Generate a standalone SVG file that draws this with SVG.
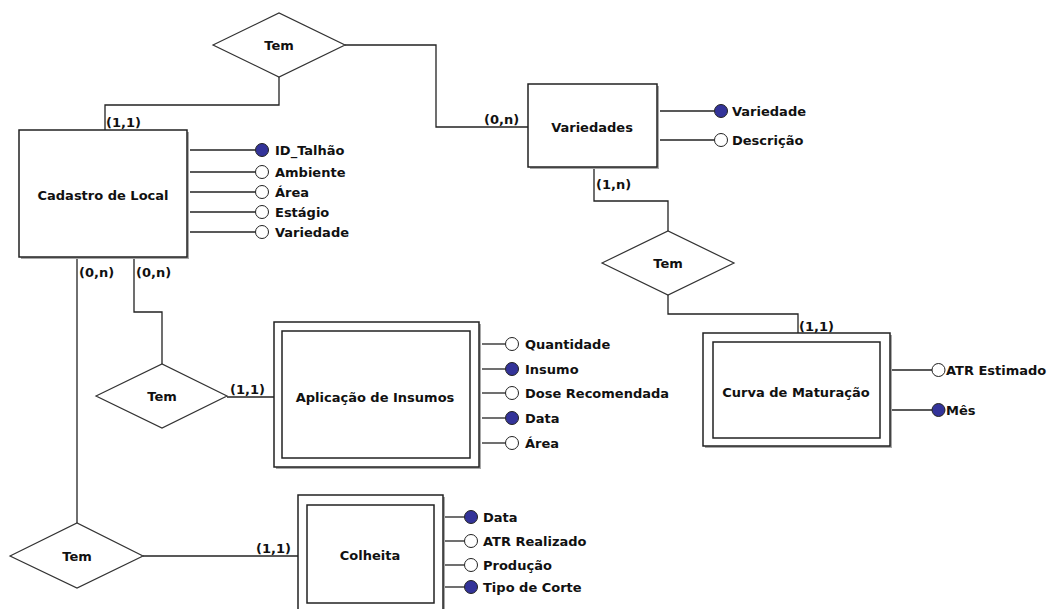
<svg xmlns="http://www.w3.org/2000/svg" width="1055" height="609" viewBox="0 0 1055 609">
<style>
text{font-family:"DejaVu Sans","Verdana",sans-serif;font-weight:bold;font-size:13px;fill:#111}
.c{text-anchor:middle;dominant-baseline:central}
.a{dominant-baseline:central}
.box{fill:#fff;stroke:#222;stroke-width:1.5}
.sh{fill:#a8a8a8;stroke:none}
.dia{fill:#fff;stroke:#333;stroke-width:1.2}
.ln{fill:none;stroke:#222;stroke-width:1.3}
.ko{fill:#fff;stroke:#222;stroke-width:1}
.pk{fill:#333399;stroke:#222;stroke-width:1}
</style>
<rect width="1055" height="609" fill="#fff"/>

<g id="connectors">
<polyline class="ln" points="279,77 279,105 105,105 105,130"/>
<polyline class="ln" points="345,45 436,45 436,127 528,127"/>
<polyline class="ln" points="594,167 594,201 668,201 668,231"/>
<polyline class="ln" points="668,295 668,314 798,314 798,333"/>
<polyline class="ln" points="134,257 134,312 162,312 162,364"/>
<line class="ln" x1="227" y1="397" x2="274" y2="397"/>
<line class="ln" x1="77" y1="257" x2="77" y2="523"/>
<line class="ln" x1="143" y1="556" x2="298" y2="556"/>
<text x="106" y="127">(1,1)</text>
<text x="484" y="124">(0,n)</text>
<text x="596" y="189">(1,n)</text>
<text x="799" y="331">(1,1)</text>
<text x="79" y="277">(0,n)</text>
<text x="136" y="277">(0,n)</text>
<text x="230" y="394">(1,1)</text>
<text x="256" y="553">(1,1)</text>
</g>

<g id="rel-tem-1">
<polygon class="dia" points="213,45 279,13 345,45 279,77"/>
<text class="c" x="279" y="45">Tem</text>
</g>
<g id="rel-tem-2">
<polygon class="dia" points="602,263 668,231 734,263 668,295"/>
<text class="c" x="668" y="263">Tem</text>
</g>
<g id="rel-tem-3">
<polygon class="dia" points="96,396 162,364 227,396 162,428"/>
<text class="c" x="162" y="396">Tem</text>
</g>
<g id="rel-tem-4">
<polygon class="dia" points="10,556 77,523 143,556 77,588"/>
<text class="c" x="77" y="556">Tem</text>
</g>

<g id="cadastro-de-local">
<rect class="sh" x="21" y="132" width="168" height="127"/>
<rect class="box" x="19" y="130" width="168" height="127"/>
<text class="c" x="103" y="195">Cadastro de Local</text>
<g class="attrs">
<line class="ln" x1="190" y1="150" x2="255" y2="150"/>
<line class="ln" x1="190" y1="172" x2="255" y2="172"/>
<line class="ln" x1="190" y1="192" x2="255" y2="192"/>
<line class="ln" x1="190" y1="212" x2="255" y2="212"/>
<line class="ln" x1="190" y1="232" x2="255" y2="232"/>
<circle class="pk" cx="262" cy="150" r="6.5"/>
<circle class="ko" cx="262" cy="172" r="6.5"/>
<circle class="ko" cx="262" cy="192" r="6.5"/>
<circle class="ko" cx="262" cy="212" r="6.5"/>
<circle class="ko" cx="262" cy="232" r="6.5"/>
<text class="a" x="275" y="150">ID_Talhão</text>
<text class="a" x="275" y="172">Ambiente</text>
<text class="a" x="275" y="192">Área</text>
<text class="a" x="275" y="212">Estágio</text>
<text class="a" x="275" y="232">Variedade</text>
</g>
</g>

<g id="variedades">
<rect class="sh" x="530" y="86" width="129" height="83"/>
<rect class="box" x="528" y="84" width="129" height="83"/>
<text class="c" x="592" y="127">Variedades</text>
<line class="ln" x1="660" y1="111" x2="714" y2="111"/>
<line class="ln" x1="660" y1="140" x2="714" y2="140"/>
<circle class="pk" cx="721" cy="111" r="6.5"/>
<circle class="ko" cx="721" cy="140" r="6.5"/>
<text class="a" x="732" y="111">Variedade</text>
<text class="a" x="732" y="140">Descrição</text>
</g>

<g id="aplicacao-de-insumos">
<rect class="sh" x="276" y="324" width="205" height="145"/>
<rect class="box" x="274" y="322" width="205" height="145"/>
<rect class="box" x="282" y="331" width="188" height="127"/>
<text class="c" x="375" y="397">Aplicação de Insumos</text>
<line class="ln" x1="482" y1="344" x2="505" y2="344"/>
<line class="ln" x1="482" y1="369" x2="505" y2="369"/>
<line class="ln" x1="482" y1="393" x2="505" y2="393"/>
<line class="ln" x1="482" y1="418" x2="505" y2="418"/>
<line class="ln" x1="482" y1="443" x2="505" y2="443"/>
<circle class="ko" cx="512" cy="344" r="6.5"/>
<circle class="pk" cx="512" cy="369" r="6.5"/>
<circle class="ko" cx="512" cy="393" r="6.5"/>
<circle class="pk" cx="512" cy="418" r="6.5"/>
<circle class="ko" cx="512" cy="443" r="6.5"/>
<text class="a" x="525" y="344">Quantidade</text>
<text class="a" x="525" y="369">Insumo</text>
<text class="a" x="525" y="393">Dose Recomendada</text>
<text class="a" x="525" y="418">Data</text>
<text class="a" x="525" y="443">Área</text>
</g>

<g id="curva-de-maturacao">
<rect class="sh" x="705" y="335" width="187" height="113"/>
<rect class="box" x="703" y="333" width="187" height="113"/>
<rect class="box" x="713" y="342" width="167" height="96"/>
<text class="c" x="796" y="392">Curva de Maturação</text>
<line class="ln" x1="892" y1="370" x2="932" y2="370"/>
<line class="ln" x1="892" y1="410" x2="932" y2="410"/>
<circle class="ko" cx="938.5" cy="370" r="6.5"/>
<circle class="pk" cx="938.5" cy="410" r="6.5"/>
<text class="a" x="946" y="370">ATR Estimado</text>
<text class="a" x="946" y="410">Mês</text>
</g>

<g id="colheita">
<rect class="sh" x="300" y="497" width="145" height="118"/>
<rect class="box" x="298" y="495" width="145" height="118"/>
<rect class="box" x="307" y="505" width="127" height="98"/>
<text class="c" x="370" y="555">Colheita</text>
<line class="ln" x1="445" y1="517" x2="464" y2="517"/>
<line class="ln" x1="445" y1="541" x2="464" y2="541"/>
<line class="ln" x1="445" y1="565" x2="464" y2="565"/>
<line class="ln" x1="445" y1="587" x2="464" y2="587"/>
<circle class="pk" cx="471" cy="517" r="6.5"/>
<circle class="ko" cx="471" cy="541" r="6.5"/>
<circle class="ko" cx="471" cy="565" r="6.5"/>
<circle class="pk" cx="471" cy="587" r="6.5"/>
<text class="a" x="483" y="517">Data</text>
<text class="a" x="483" y="541">ATR Realizado</text>
<text class="a" x="483" y="565">Produção</text>
<text class="a" x="483" y="587">Tipo de Corte</text>
</g>
</svg>
